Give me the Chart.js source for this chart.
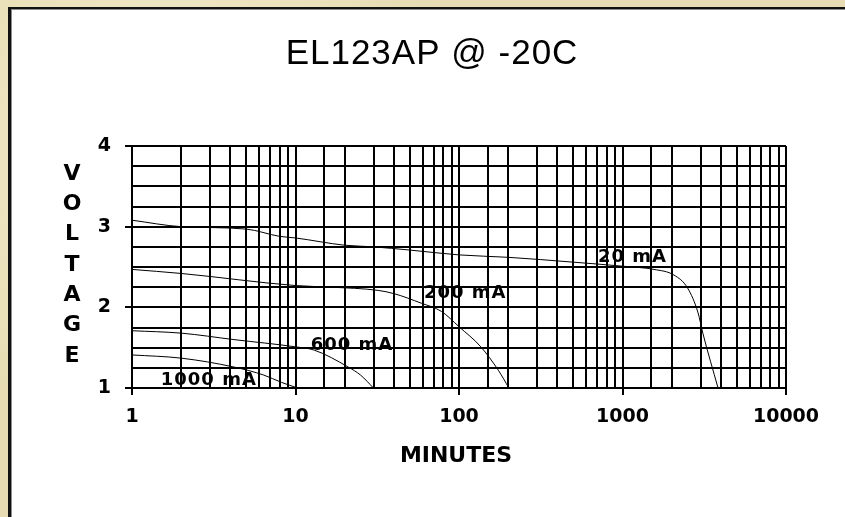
<!DOCTYPE html>
<html>
<head>
<meta charset="utf-8">
<title>EL123AP @ -20C</title>
<script src="https://cdn.jsdelivr.net/npm/chart.js@4.4.1/dist/chart.umd.min.js"></script>
<style>
  html, body { margin: 0; padding: 0; }
  body {
    width: 845px;
    height: 517px;
    overflow: hidden;
    position: relative;
    background-color: #e6dbb2;
    background-image:
      radial-gradient(circle at 20% 30%, rgba(255, 250, 225, 0.6) 0, transparent 40%),
      radial-gradient(circle at 70% 60%, rgba(200, 185, 140, 0.35) 0, transparent 35%);
  }
  .panel {
    position: absolute;
    left: 8px;
    top: 7px;
    width: 860px;
    height: 530px;
    background: #fff;
    border-left: 3px solid #111;
    border-top: 2px solid #111;
    box-shadow: inset 1px 1px 0 #8c8c8c;
  }
  #chart { position: absolute; left: 0; top: 0; }
</style>
</head>
<body>
<div class="panel"></div>
<canvas id="chart" width="845" height="517"></canvas>
<script>
// discharge curves (minutes vs volts)
const seriesNames = ["20 mA", "200 mA", "600 mA", "1000 mA"];

const minutes20 = [1, 2, 5, 8, 10, 20, 30, 50, 100, 200, 500, 1000, 1560, 2065, 2500, 2900, 3100, 3840];
const volts20 = [3.08, 3.0, 2.97, 2.88, 2.86, 2.77, 2.75, 2.71, 2.65, 2.62, 2.56, 2.51, 2.47, 2.4, 2.24, 1.93, 1.68, 1.0];

const minutes200 = [1, 2, 10, 16.5, 32, 40, 59, 78, 100, 136, 174, 202];
const volts200 = [2.47, 2.42, 2.27, 2.25, 2.21, 2.17, 2.05, 1.95, 1.76, 1.51, 1.22, 1.0];

const minutes600 = [1, 2, 4.2, 10, 13, 21, 25, 30];
const volts600 = [1.71, 1.68, 1.6, 1.51, 1.47, 1.26, 1.16, 1.0];

const minutes1000 = [1, 2, 4.2, 6.4, 8.2, 10.3];
const volts1000 = [1.41, 1.37, 1.26, 1.16, 1.07, 1.0];

const xTickLabels = ["1", "10", "100", "1000", "10000"];
const yTickLabels = ["1", "2", "3", "4"];

// where each series name sits (minutes, volts)
const labelAnchors = [[708, 2.56], [61, 2.12], [12.4, 1.47], [1.5, 1.04]];

function toPoints(xs, ys) {
  return xs.map((x, i) => ({ x: x, y: ys[i] }));
}

const curves = [
  toPoints(minutes20, volts20),
  toPoints(minutes200, volts200),
  toPoints(minutes600, volts600),
  toPoints(minutes1000, volts1000),
];

const isMajorX = (v) => xTickLabels.includes(String(v));
const isMajorY = (v) => yTickLabels.includes(String(v));

const textPlugin = {
  id: "chartText",
  afterDraw(chart) {
    const { ctx, scales } = chart;
    ctx.save();
    ctx.fillStyle = "#000";

    // title
    ctx.font = '35px "Liberation Sans", Arial, sans-serif';
    ctx.letterSpacing = "1px";
    ctx.textAlign = "center";
    ctx.textBaseline = "alphabetic";
    ctx.fillText("EL123AP @ -20C", 432, 64);
    ctx.letterSpacing = "0px";

    // x axis title
    ctx.font = 'bold 22px "DejaVu Sans", sans-serif';
    ctx.textBaseline = "middle";
    ctx.fillText("MINUTES", 456, 456);

    // stacked y axis title
    const letters = "VOLTAGE".split("");
    letters.forEach((ch, i) => {
      ctx.fillText(ch, 72, 174 + i * 30.3);
    });

    // series names
    ctx.font = 'bold 18px "DejaVu Sans", sans-serif';
    ctx.letterSpacing = "1px";
    ctx.textAlign = "left";
    ctx.textBaseline = "alphabetic";
    seriesNames.forEach((name, i) => {
      const px = scales.x.getPixelForValue(labelAnchors[i][0]);
      const py = scales.y.getPixelForValue(labelAnchors[i][1]);
      ctx.fillText(name, px, py);
    });
    ctx.restore();
  },
};

const ctx = document.getElementById("chart").getContext("2d");
const myChart = new Chart(ctx, {
  type: "line",
  data: {
    datasets: curves.map((pts, i) => ({
      label: seriesNames[i],
      data: pts,
      borderColor: "#000",
      borderWidth: 1,
      pointRadius: 0,
      fill: false,
      cubicInterpolationMode: "monotone",
    })),
  },
  options: {
    responsive: false,
    animation: false,
    layout: {
      padding: { top: 146, right: 59, bottom: 0, left: 0 },
    },
    plugins: {
      legend: { display: false },
      title: { display: false },
      tooltip: { enabled: false },
    },
    scales: {
      x: {
        type: "logarithmic",
        min: 1,
        max: 10000,
        afterFit: (s) => { s.height = 129; },
        border: { color: "#000", width: 2 },
        grid: {
          color: "#000",
          lineWidth: 2,
          tickLength: 7,
          tickColor: (c) => (c.tick && isMajorX(c.tick.value) ? "#000" : "rgba(0,0,0,0)"),
        },
        ticks: {
          autoSkip: false,
          maxRotation: 0,
          padding: 11,
          color: "#000",
          font: { family: "DejaVu Sans", size: 19, weight: "bold" },
          callback: (v) => (isMajorX(v) ? String(v) : ""),
        },
      },
      y: {
        min: 1,
        max: 4,
        afterFit: (s) => { s.width = 132; },
        border: { color: "#000", width: 2 },
        grid: {
          color: "#000",
          lineWidth: 2,
          tickLength: 7,
          tickColor: (c) => (c.tick && isMajorY(c.tick.value) ? "#000" : "rgba(0,0,0,0)"),
        },
        ticks: {
          stepSize: 0.25,
          autoSkip: false,
          padding: 14,
          color: "#000",
          font: { family: "DejaVu Sans", size: 19, weight: "bold" },
          callback: (v) => (isMajorY(v) ? String(v) : ""),
        },
      },
    },
  },
  plugins: [textPlugin],
});
</script>
</body>
</html>
